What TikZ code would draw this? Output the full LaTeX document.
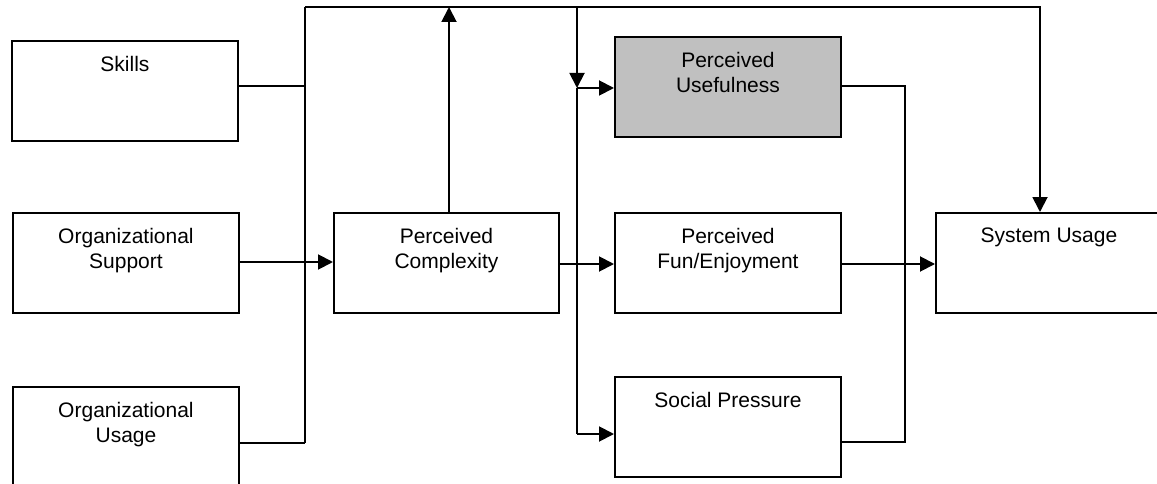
\documentclass[tikz,border=0pt]{standalone}
\usepackage{fontspec}
\setmainfont{Liberation Sans}
\usetikzlibrary{arrows.meta}
\definecolor{boxgray}{RGB}{192,192,192}
\tikzset{
  box/.style={draw, line width=1.9pt, minimum width=226pt, minimum height=100pt,
    inner sep=0pt, anchor=north west},
  shaded/.style={box, fill=boxgray},
  lbl/.style={anchor=north, inner sep=0pt, align=center,
    font=\fontsize{21pt}{25pt}\selectfont},
  wire/.style={line width=1.9pt},
  arr/.style={wire, -{Triangle[length=15pt,width=15pt]}},
}
\begin{document}
\begin{tikzpicture}[x=1pt, y=-1pt]
\useasboundingbox (0,0) rectangle (1157,484);

% boxes
\node[box] (sk)  at (11,40)   {};
\node[box] (os)  at (12,212)  {};
\node[box] (ou)  at (12,386)  {};
\node[box, minimum width=225pt] (pc) at (333,212) {};
\node[shaded] (pu) at (614,36) {};
\node[box] (pfe) at (614,212) {};
\node[box] (sp)  at (614,376) {};
\node[box] (su)  at (935,212) {};

% box captions
\node[lbl] (sk-t)  at ([yshift=-16pt]sk.north)  {Skills};
\node[lbl] (os-t)  at ([yshift=-16pt]os.north)  {Organizational\\Support};
\node[lbl] (ou-t)  at ([yshift=-16pt]ou.north)  {Organizational\\Usage};
\node[lbl] (pc-t)  at ([yshift=-16pt]pc.north)  {Perceived\\Complexity};
\node[lbl] (pu-t)  at ([yshift=-16pt]pu.north)  {Perceived\\Usefulness};
\node[lbl] (pfe-t) at ([yshift=-16pt]pfe.north) {Perceived\\Fun/Enjoyment};
\node[lbl] (sp-t)  at ([yshift=-16pt]sp.north)  {Social Pressure};
\node[lbl] (su-t)  at ([yshift=-16pt]su.north)  {System Usage};

% routing points
\coordinate (bt)  at (305,7);    % top of the left bus
\coordinate (bb)  at (305,443);  % bottom of the left bus
\coordinate (tr)  at (1040,7);   % top-right corner of the feedback line
\coordinate (dtop) at (577,7);   % top of the distribution line
\coordinate (dj)  at (577,88);   % junction on the distribution line
\coordinate (db)  at (577,434);  % bottom of the distribution line
\coordinate (rt)  at (905,86);   % right collector, top
\coordinate (rb)  at (905,442);  % right collector, bottom

% left bus and inputs
\draw[wire] (bt) -- (bb);
\draw[wire] (sk.east |- 0,86) -- (bt |- 0,86);
\draw[wire] (ou.east |- bb) -- (bb);
\draw[arr] (os.east |- 0,262) -- (pc.west |- 0,262);

% top feedback line to System Usage
\draw[arr] (bt) -- (tr) -- (tr |- su.north);
\draw[arr] (449,0 |- pc.north) -- (449,7);

% distribution line to the three perceptions
\draw[arr] (dtop) -- (dj);
\draw[wire] (dj) -- (db);
\draw[arr] (dj) -- (pu.west |- dj);
\draw[arr] (db) -- (sp.west |- db);
\draw[arr] (pc.east |- 0,264) -- (pfe.west |- 0,264);

% outputs to System Usage
\draw[arr] (pfe.east |- 0,264) -- (su.west |- 0,264);
\draw[wire] (pu.east |- rt) -- (rt) -- (rb) -- (sp.east |- rb);
\end{tikzpicture}
\end{document}
